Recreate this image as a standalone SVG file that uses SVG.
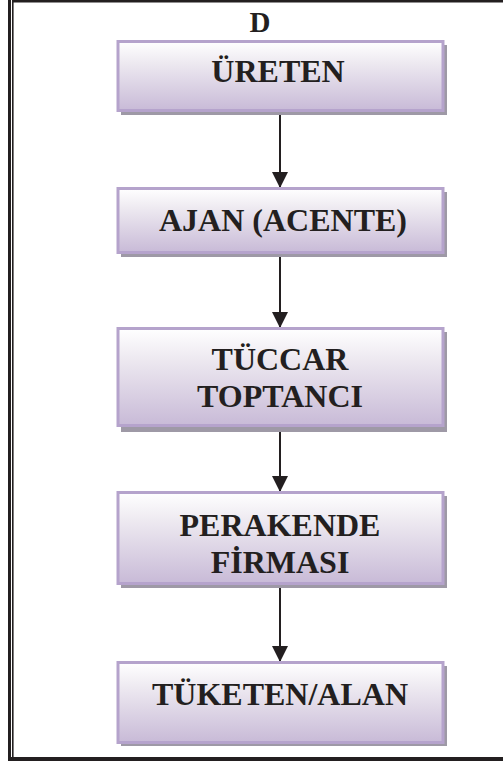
<svg xmlns="http://www.w3.org/2000/svg" width="503" height="763" viewBox="0 0 503 763">
  <style>
    .box { fill: url(#boxFill); stroke: #b5a3cc; stroke-width: 3; }
    .shadow { fill: #9e99a6; }
    .label { font-family: "Liberation Serif", "Times New Roman", serif; font-weight: bold; font-size: 32px; fill: #231f20; text-anchor: middle; }
    .conn { stroke: #231f20; stroke-width: 2; fill: none; marker-end: url(#arrow); }
    .frame { stroke: #231f20; fill: none; }
  </style>
  <defs>
    <linearGradient id="boxFill" x1="0" y1="0" x2="0" y2="1">
      <stop offset="0" stop-color="#ffffff"/>
      <stop offset="0.3" stop-color="#eeeaf1"/>
      <stop offset="1" stop-color="#c8bad7"/>
    </linearGradient>
    <marker id="arrow" markerUnits="userSpaceOnUse" markerWidth="16" markerHeight="16" viewBox="0 0 16 16" refX="16" refY="8" orient="auto">
      <path d="M0,0 L16,8 L0,16 Z" fill="#231f20"/>
    </marker>
  </defs>

  <!-- page frame: double rule on the left, rules top and bottom -->
  <g id="frame">
    <line class="frame" x1="9.5" y1="0" x2="9.5" y2="761" stroke-width="3"/>
    <line class="frame" x1="12.8" y1="0" x2="12.8" y2="757" stroke-width="1.6"/>
    <line class="frame" x1="12" y1="1.2" x2="503" y2="1.2" stroke-width="2.6"/>
    <line class="frame" x1="8" y1="759" x2="503" y2="759" stroke-width="4"/>
  </g>

  <text id="title" class="label" x="260" y="32" style="font-size:29px">D</text>

  <g id="connectors">
    <line class="conn" x1="280" y1="114" x2="280" y2="188"/>
    <line class="conn" x1="280" y1="257" x2="280" y2="328"/>
    <line class="conn" x1="280" y1="432" x2="280" y2="492"/>
    <line class="conn" x1="280" y1="588" x2="280" y2="662"/>
  </g>

  <g id="node-ureten">
    <rect class="shadow" x="121" y="45" width="326" height="70"/>
    <rect class="box" x="118" y="41.5" width="325" height="69"/>
    <text class="label" x="278" y="82">ÜRETEN</text>
  </g>

  <g id="node-ajan">
    <rect class="shadow" x="121" y="192" width="326" height="65"/>
    <rect class="box" x="118" y="188.5" width="325" height="64"/>
    <text class="label" x="283" y="231">AJAN (ACENTE)</text>
  </g>

  <g id="node-tuccar">
    <rect class="shadow" x="121" y="332" width="326" height="100"/>
    <rect class="box" x="118" y="328.5" width="325" height="97"/>
    <text class="label" x="280" y="370">TÜCCAR</text>
    <text class="label" x="280" y="407">TOPTANCI</text>
  </g>

  <g id="node-perakende">
    <rect class="shadow" x="121" y="496" width="326" height="92"/>
    <rect class="box" x="118" y="492.5" width="325" height="91"/>
    <text class="label" x="280" y="536">PERAKENDE</text>
    <text class="label" x="280" y="573">FİRMASI</text>
  </g>

  <g id="node-tuketen">
    <rect class="shadow" x="121" y="666" width="326" height="80"/>
    <rect class="box" x="118" y="662.5" width="325" height="80"/>
    <text class="label" x="280" y="705">TÜKETEN/ALAN</text>
  </g>
</svg>
